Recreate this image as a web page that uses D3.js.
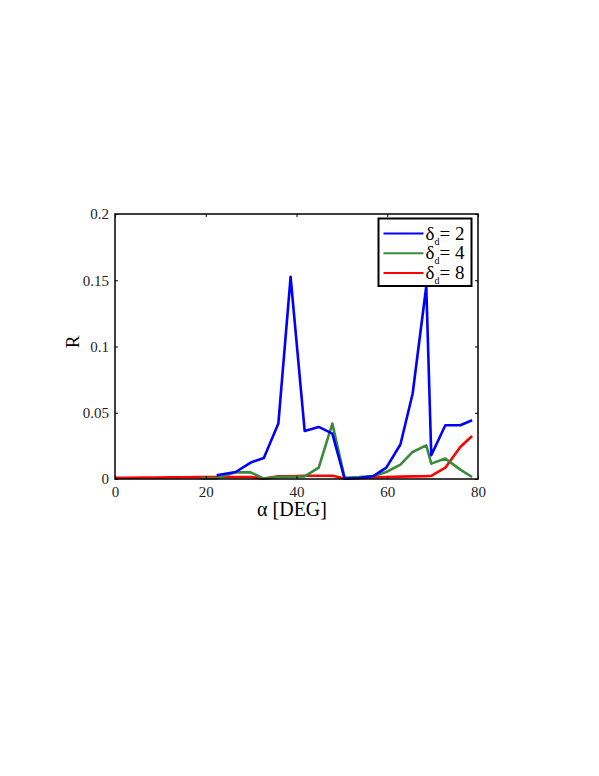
<!DOCTYPE html>
<html>
<head>
<meta charset="utf-8">
<script src="https://cdn.jsdelivr.net/npm/d3@7"></script>
<style>
  body { margin: 0; background: #fff; }
</style>
</head>
<body>
<div id="chart"></div>
<script>
// sample angles (deg)
var alpha = [0, 3, 6, 9, 12, 15, 18.9, 22.4, 26.6, 29.9, 32.8, 36.0, 38.7, 41.8, 44.9, 47.9,
             50.6, 53.8, 57.0, 59.8, 62.9, 65.6, 68.6, 69.7, 72.8, 76.1, 78.7];

// R values per series (null = not plotted)
var r2 = [null, null, null, null, null, null, null, 0.0028, 0.0053, 0.0124, 0.0159, 0.0418, 0.1526, 0.0363, 0.0393, 0.0343,
          0.0003, 0.0008, 0.0023, 0.0086, 0.026, 0.0645, 0.1455, 0.0179, 0.0406, 0.0406, 0.0443];
var r4 = [null, null, null, null, null, null, 0.0005, 0.0006, 0.005, 0.005, 0.0003, 0.0015, 0.0015, 0.002, 0.0086, 0.0418,
          0.001, 0.0015, 0.0023, 0.0053, 0.0108, 0.0204, 0.0254, 0.0116, 0.0154, 0.0071, 0.0015];
var r8 = [0.001, 0.001, 0.0011, 0.0011, 0.0012, 0.0013, 0.0014, 0.0015, 0.0015, 0.0015, 0.0003, 0.002, 0.002, 0.0025, 0.0025, 0.0025,
          0.0003, 0.0008, 0.0012, 0.0015, 0.0018, 0.002, 0.0022, 0.0024, 0.0085, 0.0242, 0.0325];

var seriesNames = ["2", "4", "8"];
var seriesColors = ["#0000ff", "#3a8a3a", "#ff0000"];
var xTicks = [0, 20, 40, 60, 80];
var yTicks = [0, 0.05, 0.1, 0.15, 0.2];

var FONT = '"Liberation Serif", "Times New Roman", serif';
var W = 599, H = 776;
var margin = {top: 214, left: 115},
    width = 363,
    height = 265;

var svg = d3.select("#chart")
  .append("svg")
    .attr("width", W)
    .attr("height", H)
    .style("font-family", FONT);

var g = svg.append("g")
    .attr("transform", "translate(" + margin.left + "," + margin.top + ")");

var x = d3.scaleLinear().domain([0, 80]).range([0, width]);
var y = d3.scaleLinear().domain([0, 0.2]).range([height, 0]);

// lines
var all = [r2, r4, r8];
var line = d3.line()
    .defined(function(d) { return d.r !== null; })
    .x(function(d) { return x(d.a); })
    .y(function(d) { return y(d.r); });

// draw red first so blue stays on top like the original
[2, 1, 0].forEach(function(k) {
  var pts = alpha.map(function(a, i) { return {a: a, r: all[k][i]}; });
  g.append("path")
    .datum(pts)
    .attr("d", line)
    .attr("fill", "none")
    .attr("stroke", seriesColors[k])
    .attr("stroke-width", 2.6)
    .attr("stroke-linejoin", "round");
});

// axes: inward ticks, box
var fmt = function(d) { return d === 0 ? "0" : String(+d.toFixed(2)); };

g.append("g")
    .attr("transform", "translate(0," + height + ")")
    .call(d3.axisBottom(x).tickValues(xTicks).tickSize(-3).tickPadding(7).tickFormat(fmt));
g.append("g")
    .call(d3.axisLeft(y).tickValues(yTicks).tickSize(-3).tickPadding(6).tickFormat(fmt));
g.append("g")
    .call(d3.axisTop(x).tickValues(xTicks).tickSize(-3).tickFormat(""));
g.append("g")
    .attr("transform", "translate(" + width + ",0)")
    .call(d3.axisRight(y).tickValues(yTicks).tickSize(-3).tickFormat(""));

g.selectAll(".domain").remove();
g.selectAll(".tick line").attr("stroke", "#000");
g.selectAll(".tick text")
    .attr("fill", "#222")
    .style("font-family", FONT)
    .style("font-size", "15px");

g.append("rect")
    .attr("width", width)
    .attr("height", height)
    .attr("fill", "none")
    .attr("stroke", "#000")
    .attr("stroke-width", 1.5);

// axis labels
svg.append("text")
    .attr("x", 292)
    .attr("y", 516)
    .attr("text-anchor", "middle")
    .style("font-size", "20px")
    .text("\u03b1 [DEG]");

svg.append("text")
    .attr("transform", "translate(79,342) rotate(-90)")
    .attr("text-anchor", "middle")
    .style("font-size", "19px")
    .text("R");

// legend
var leg = svg.append("g").attr("transform", "translate(378.5,218.5)");
leg.append("rect")
    .attr("width", 93)
    .attr("height", 67.5)
    .attr("fill", "#fff")
    .attr("stroke", "#000")
    .attr("stroke-width", 2);

seriesNames.forEach(function(n, i) {
  var yy = 15 + i * 19.7;
  leg.append("line")
    .attr("x1", 5).attr("x2", 45)
    .attr("y1", yy).attr("y2", yy)
    .attr("stroke", seriesColors[i])
    .attr("stroke-width", 2);
  var t = leg.append("text")
    .attr("x", 47)
    .attr("y", yy + 6)
    .style("font-size", "19px");
  t.append("tspan").text("\u03b4");
  t.append("tspan").attr("dy", 5).style("font-size", "10px").text("d");
  t.append("tspan").attr("dy", -5).text("= " + n);
});
</script>
</body>
</html>
